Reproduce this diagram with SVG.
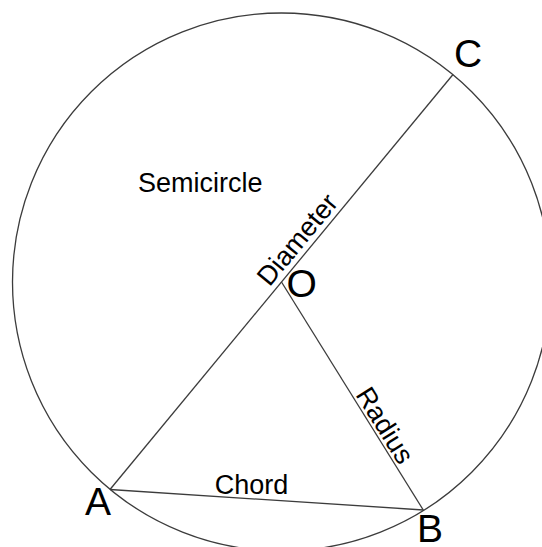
<svg xmlns="http://www.w3.org/2000/svg" width="542" height="547" viewBox="0 0 542 547">
  <style>
    .ln { fill: none; stroke: #3c3c3c; stroke-width: 1.3; }
    .pt { font-family: "Liberation Sans", Arial, sans-serif; font-size: 39px; fill: #000; }
    .lb { font-family: "Liberation Sans", Arial, sans-serif; font-size: 27px; fill: #000; }
  </style>
  <rect width="542" height="547" fill="#fff"/>
  <g id="circle">
    <circle class="ln" cx="281.5" cy="282" r="269"/>
    <text class="lb" x="138" y="192">Semicircle</text>
  </g>
  <g id="connectors">
    <line id="diameter" class="ln" x1="110" y1="489.5" x2="453" y2="74.5"/>
    <line id="radius" class="ln" x1="281.5" y1="282" x2="423.3" y2="510"/>
    <line id="chord" class="ln" x1="110" y1="489.5" x2="423.3" y2="510"/>
    <text class="lb" transform="translate(269.4 287.6) rotate(-50.4)">Diameter</text>
    <text class="lb" transform="translate(355 394.5) rotate(58.1)">Radius</text>
    <text class="lb" x="214.7" y="494.3">Chord</text>
  </g>
  <g id="A"><text class="pt" x="85" y="514.5">A</text></g>
  <g id="B"><text class="pt" x="417" y="541.5">B</text></g>
  <g id="C"><text class="pt" x="454" y="67">C</text></g>
  <g id="O"><text class="pt" x="286.5" y="296.5">O</text></g>
</svg>
